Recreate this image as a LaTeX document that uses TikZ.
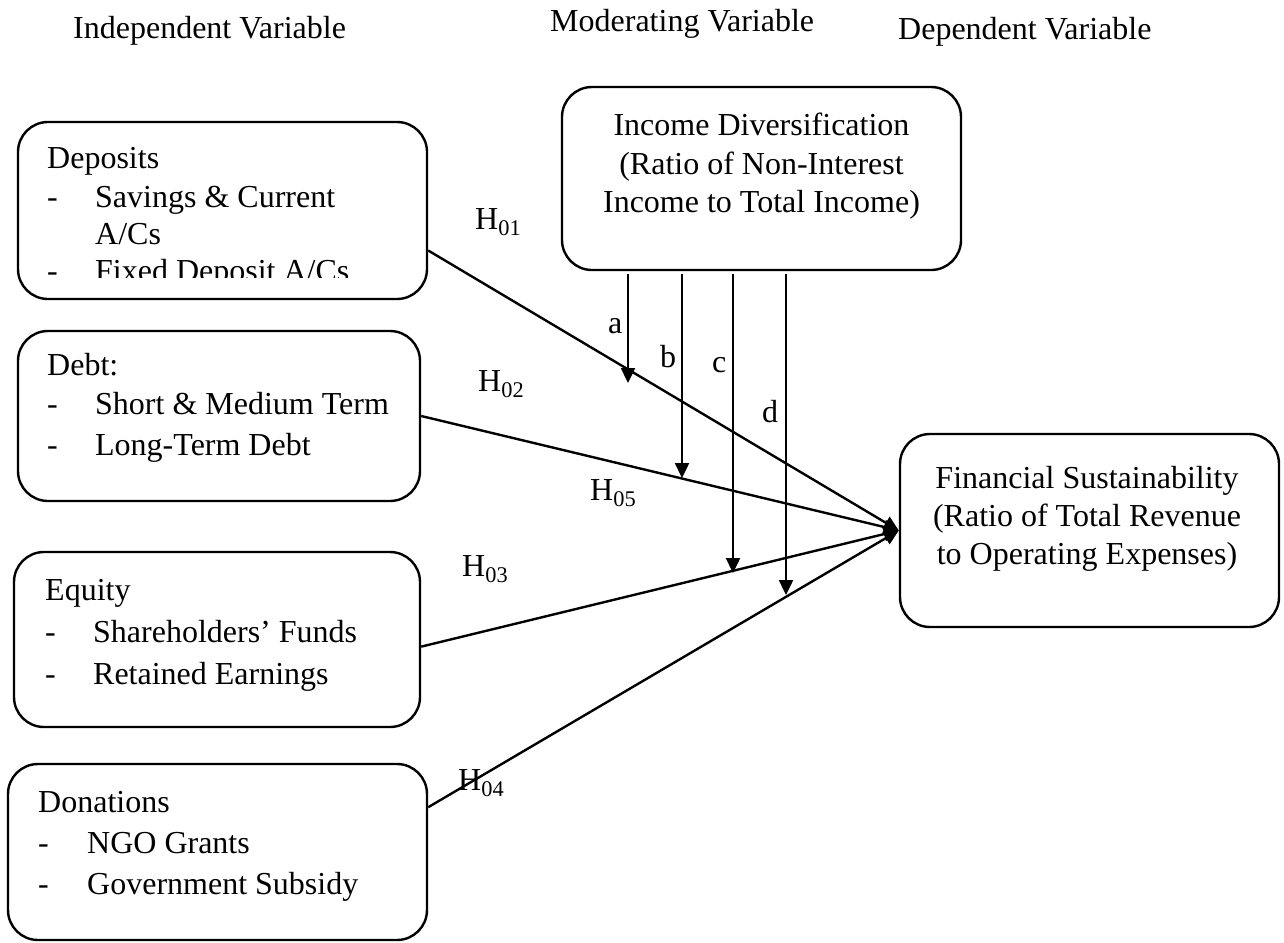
\documentclass[tikz,border=0pt]{standalone}
\usepackage{fontspec}
\setmainfont{Liberation Serif}
\usetikzlibrary{arrows.meta}
\tikzset{
  varbox/.style={draw, line width=2.4pt, rounded corners=30pt, inner sep=0pt},
  txt/.style={anchor=base west, inner sep=0pt, font=\fontsize{32}{38}\selectfont},
  ctxt/.style={anchor=base, inner sep=0pt, font=\fontsize{32}{38}\selectfont},
  arr/.style={line width=2.4pt, -{Triangle[length=15pt,width=14pt]}}
}
\newcommand{\dashitem}[1]{\makebox[48pt][l]{-}#1}
\begin{document}
\begin{tikzpicture}[x=1pt,y=-1pt]
\useasboundingbox (0,0) rectangle (1284,942);
\node[txt] (hind) at (73,38) {Independent Variable};
\node[txt] (hmod) at (550,32) {Moderating Variable};
\node[txt] (hdep) at (898,40) {Dependent Variable};
\node[varbox, minimum width=409pt, minimum height=177pt] (dep) at (222.5,210.5) {};
\node[varbox, minimum width=402pt, minimum height=170pt] (debt) at (219,416) {};
\node[varbox, minimum width=406pt, minimum height=175pt] (eq) at (217,639.5) {};
\node[varbox, minimum width=419pt, minimum height=176pt] (don) at (217.5,852) {};
\node[varbox, minimum width=399pt, minimum height=183pt] (inc) at (761.5,178.5) {};
\node[varbox, minimum width=379pt, minimum height=193pt] (fin) at (1089.5,530.5) {};
\begin{scope}
\clip (0,0) rectangle (500,277);
\node[txt] (dep1) at (47,168) {Deposits};
\node[txt] (dep2) at (47,207) {\dashitem{Savings \& Current}};
\node[txt] (dep3) at (95,244) {A/Cs};
\node[txt] (dep4) at (47,281) {\dashitem{Fixed Deposit A/Cs}};
\end{scope}
\node[txt] (debt1) at (47,375) {Debt:};
\node[txt] (debt2) at (47,414) {\dashitem{Short \& Medium Term}};
\node[txt] (debt3) at (47,455) {\dashitem{Long-Term Debt}};
\node[txt] (eq1) at (45,600) {Equity};
\node[txt] (eq2) at (45,642) {\dashitem{Shareholders' Funds}};
\node[txt] (eq3) at (45,684) {\dashitem{Retained Earnings}};
\node[txt] (don1) at (38,812) {Donations};
\node[txt] (don2) at (38,853) {\makebox[49pt][l]{-}NGO Grants};
\node[txt] (don3) at (38,894) {\makebox[49pt][l]{-}Government Subsidy};
\node[ctxt] (inc1) at (761.5,135) {Income Diversification};
\node[ctxt] (inc2) at (761.5,174) {(Ratio of Non-Interest};
\node[ctxt] (inc3) at (761.5,212) {Income to Total Income)};
\node[ctxt] (fin1) at (1087,488) {Financial Sustainability};
\node[ctxt] (fin2) at (1087,526) {(Ratio of Total Revenue};
\node[ctxt] (fin3) at (1087,564) {to Operating Expenses)};
\node[txt] (h01) at (475,229) {H\textsubscript{01}};
\node[txt] (h02) at (478,391) {H\textsubscript{02}};
\node[txt] (h05) at (590,500) {H\textsubscript{05}};
\node[txt] (h03) at (462,576) {H\textsubscript{03}};
\node[txt] (h04) at (458,790) {H\textsubscript{04}};
\node[txt] (la) at (608,333) {a};
\node[txt] (lb) at (660,367) {b};
\node[txt] (lc) at (712,372) {c};
\node[txt] (ld) at (762,422) {d};
\coordinate (ma) at (628,383);
\coordinate (mb) at (682,478);
\coordinate (mc) at (733,573);
\coordinate (md) at (786,595);
\draw[arr] (dep.-11.5) -- (fin.west);
\draw[arr] (debt.east) -- (fin.west);
\draw[arr] (eq.-2.4) -- (fin.west);
\draw[arr] (don.12.4) -- (fin.west);
\draw[arr] (ma |- inc.south) ++(0,3) -- (ma);
\draw[arr] (mb |- inc.south) ++(0,3) -- (mb);
\draw[arr] (mc |- inc.south) ++(0,3) -- (mc);
\draw[arr] (md |- inc.south) ++(0,3) -- (md);
\end{tikzpicture}
\end{document}
